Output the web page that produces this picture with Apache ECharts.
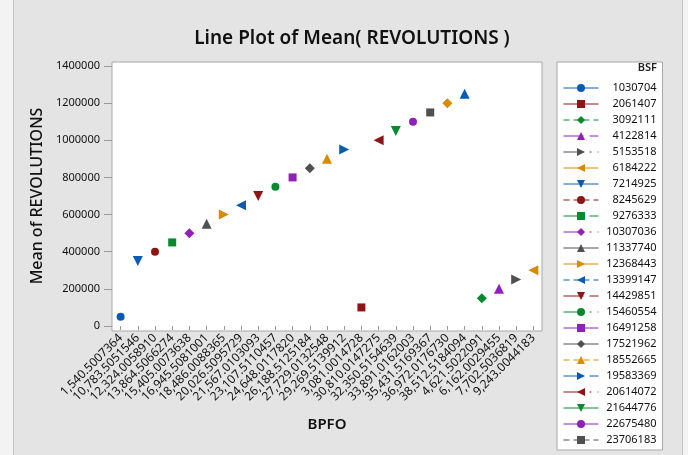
<!DOCTYPE html>
<html>
<head>
<meta charset="utf-8">
<script src="https://cdn.jsdelivr.net/npm/echarts@6/dist/echarts.min.js"></script>
<style>
  html, body { margin: 0; padding: 0; background: #ffffff; }
  #chart { width: 688px; height: 455px; }
</style>
</head>
<body>
<div id="chart"></div>
<script>
// x-axis categories (BPFO), in the order shown
const categories = ['1,540.5007364','10,783.5051546','12,324.0058910','13,864.5066274','15,405.0073638','16,945.5081001','18,486.0088365','20,026.5095729','21,567.0103093','23,107.5110457','24,648.0117820','26,188.5125184','27,729.0132548','29,269.5139912','3,081.0014728','30,810.0147275','32,350.5154639','33,891.0162003','35,431.5169367','36,972.0176730','38,512.5184094','4,621.5022091','6,162.0029455','7,702.5036819','9,243.0044183'];
// series names (BSF)
const bsf = ['1030704','2061407','3092111','4122814','5153518','6184222','7214925','8245629','9276333','10307036','11337740','12368443','13399147','14429851','15460554','16491258','17521962','18552665','19583369','20614072','21644776','22675480','23706183','24736887','25767591'];
// BPFO category of each series
const seriesBpfo = ['1,540.5007364','3,081.0014728','4,621.5022091','6,162.0029455','7,702.5036819','9,243.0044183','10,783.5051546','12,324.0058910','13,864.5066274','15,405.0073638','16,945.5081001','18,486.0088365','20,026.5095729','21,567.0103093','23,107.5110457','24,648.0117820','26,188.5125184','27,729.0132548','29,269.5139912','30,810.0147275','32,350.5154639','33,891.0162003','35,431.5169367','36,972.0176730','38,512.5184094'];
// Mean of REVOLUTIONS for each series
const meanRev = [50000,100000,150000,200000,250000,300000,350000,400000,450000,500000,550000,600000,650000,700000,750000,800000,850000,900000,950000,1000000,1050000,1100000,1150000,1200000,1250000];
const yTicks = [0,200000,400000,600000,800000,1000000,1200000,1400000];

const colors = ['#0a5cb3','#8c1515','#078a2e','#9020b8','#505050','#d98a00'];
const symbols = [
  {s:'circle', r:0, size:8},
  {s:'rect', r:0, size:8},
  {s:'diamond', r:0, size:10},
  {s:'triangle', r:0, size:10},
  {s:'triangle', r:-90, size:10},
  {s:'triangle', r:90, size:10},
  {s:'triangle', r:180, size:10}
];
const dashes = ['solid','solid',[6,4],[20,6],[20,6,2,6]];

const series = bsf.map((name, i) => {
  const sym = symbols[i % 7];
  const col = colors[i % 6];
  return {
    name: name,
    type: 'line',
    data: [[seriesBpfo[i], meanRev[i]]],
    symbol: sym.s,
    symbolRotate: sym.r,
    symbolSize: sym.size,
    showSymbol: true,
    itemStyle: { color: col },
    lineStyle: { color: col, width: 1, type: dashes[i % 5] },
    emphasis: { disabled: true },
    animation: false
  };
});

const chart = echarts.init(document.getElementById('chart'), null, {renderer: 'canvas'});
const FONT = 'Noto Sans';
chart.setOption({
  backgroundColor: '#f3f3f3',
  animation: false,
  title: {
    text: 'Line Plot of Mean( REVOLUTIONS )',
    left: 347, top: 24, textAlign: 'center',
    textStyle: { fontFamily: FONT, fontSize: 19, fontWeight: 600, color: '#111' }
  },
  graphic: [
    { type: 'rect', shape: {x: 13.5, y: -2, width: 669, height: 460}, style: {fill: '#e4e4e4', stroke: '#c4c4c4', lineWidth: 1}, z: -20, silent: true },
    { type: 'rect', shape: {x: 112, y: 62, width: 430, height: 269}, style: {fill: '#ffffff', stroke: '#a8a8a8', lineWidth: 1}, z: -10, silent: true },
    { type: 'text', style: { text: 'BSF', x: 657, y: 68, align: 'right', verticalAlign: 'middle', font: '600 11px "Noto Sans"', fill: '#222' }, z: 10 }
  ],
  grid: { left: 112, right: 146, top: 66, bottom: 129 },
  xAxis: {
    type: 'category',
    data: categories,
    boundaryGap: true,
    offset: 5,
    name: 'BPFO',
    nameLocation: 'middle',
    nameGap: 86,
    nameTextStyle: { fontFamily: FONT, fontSize: 15, fontWeight: 600, color: '#111' },
    axisLine: { show: false },
    axisTick: { show: true, alignWithLabel: true, length: 4, lineStyle: { color: '#999' } },
    axisLabel: { interval: 0, rotate: 45, fontFamily: FONT, fontSize: 12, color: '#111', margin: 5 },
    splitLine: { show: false }
  },
  yAxis: {
    type: 'value',
    min: 0, max: 1400000, interval: 200000,
    name: 'Mean of REVOLUTIONS',
    nameLocation: 'middle',
    nameGap: 60,
    nameTextStyle: { fontFamily: FONT, fontSize: 16, fontWeight: 500, color: '#111' },
    axisLine: { show: false },
    axisTick: { show: true, length: 8, lineStyle: { color: '#999' } },
    axisLabel: { fontFamily: FONT, fontSize: 11, color: '#111', margin: 12,
      formatter: v => yTicks.includes(v) ? String(v) : '' },
    splitLine: { show: false }
  },
  legend: {
    orient: 'vertical',
    left: 557, top: 62, width: 111, height: 388,
    padding: [20, 6, 4, 6],
    backgroundColor: '#ffffff',
    borderColor: '#a8a8a8', borderWidth: 1,
    itemWidth: 35, itemHeight: 10, itemGap: 4,
    lineStyle: { width: 1 },
    data: bsf.slice(0, 23),
    formatter: name => '{a|' + name + '}',
    textStyle: { fontFamily: FONT, fontSize: 11, color: '#111', lineHeight: 12,
      rich: { a: { width: 53, height: 12, lineHeight: 12, align: 'right', fontFamily: FONT, fontSize: 11, color: '#111' } } },
    selectedMode: false
  },
  series: series
});
</script>
</body>
</html>
